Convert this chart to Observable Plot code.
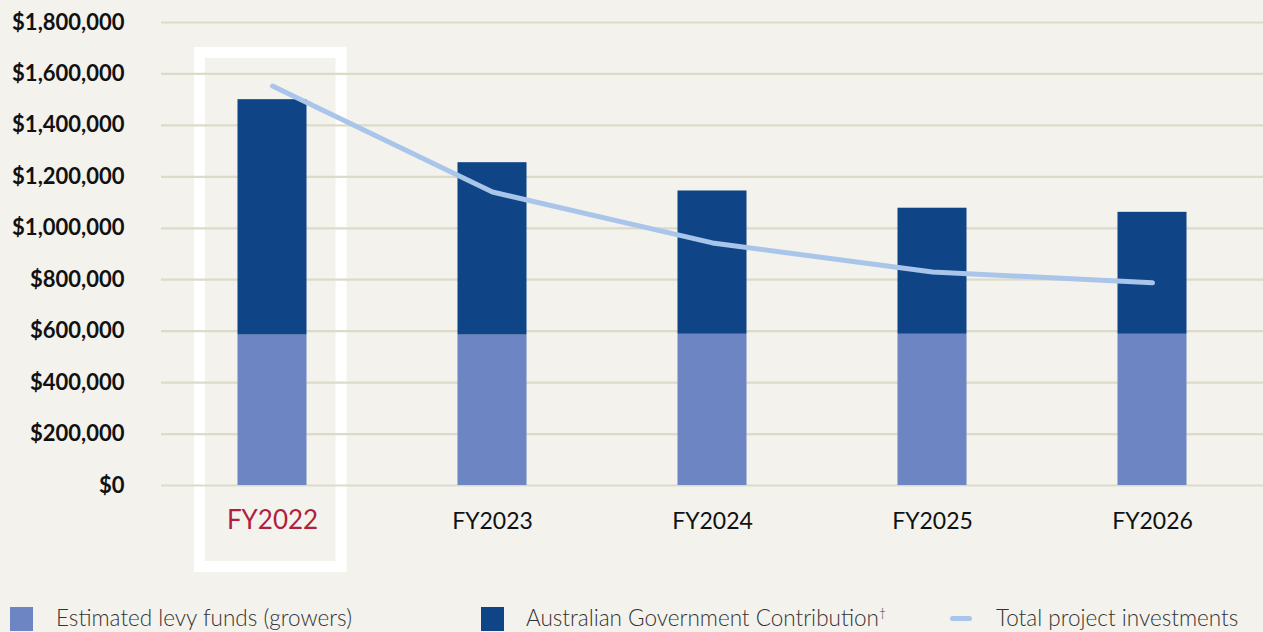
<!DOCTYPE html>
<html>
<head>
<meta charset="utf-8">
<script src="https://cdn.jsdelivr.net/npm/d3@7"></script>
<script src="https://cdn.jsdelivr.net/npm/@observablehq/plot@0.6"></script>
<style>
  html, body { margin: 0; padding: 0; background: #f3f2ed; }
  body { width: 1263px; height: 632px; overflow: hidden; position: relative; font-family: Lato, "Open Sans", sans-serif; }
  #legend { position: absolute; left: 0; top: 595px; width: 1263px; height: 37px; }
  .item { position: absolute; top: 0; height: 37px; font-size: 22.5px; font-weight: 300; color: #333; white-space: nowrap; }
  .sw { position: absolute; top: 12px; width: 23px; height: 24px; }
  .ln { position: absolute; top: 21px; width: 22px; height: 5px; border-radius: 3px; }
  .lt { position: absolute; top: 11px; line-height: 24px; }
  .lt sup { font-size: 12px; vertical-align: 9px; line-height: 0; }
</style>
</head>
<body>
<div id="chart"></div>
<div id="legend"></div>
<script>
const categories = ["FY2022", "FY2023", "FY2024", "FY2025", "FY2026"];
const levyFunds = [585000, 585000, 588000, 588000, 588000];
const governmentContribution = [915000, 670000, 557000, 490000, 474000];
const totalProjectInvestments = [1553000, 1141000, 943000, 830000, 788000];
const yTicks = [0, 200000, 400000, 600000, 800000, 1000000, 1200000, 1400000, 1600000, 1800000];
const seriesNames = ["Estimated levy funds (growers)", "Australian Government Contribution\u2020"];
const seriesColors = ["#6d86c3", "#0f4587"];
const lineName = "Total project investments";
const lineColor = "#a9c5ea";
const highlighted = ["FY2022"];

const rows = [];
categories.forEach((c, i) => {
  rows.push({year: c, series: seriesNames[0], value: levyFunds[i]});
  rows.push({year: c, series: seriesNames[1], value: governmentContribution[i]});
});
const lineRows = categories.map((c, i) => ({year: c, value: totalProjectInvestments[i]}));

const fmt = d => "$" + d3.format(",")(d);

const chart = Plot.plot({
  width: 1263,
  height: 595,
  marginLeft: 161,
  marginRight: 0,
  marginTop: 22,
  marginBottom: 110,
  style: {background: "transparent", fontFamily: "Lato, 'Open Sans', sans-serif"},
  x: {domain: categories, padding: 0, axis: null},
  y: {domain: [0, 1800000], ticks: yTicks, axis: null},
  color: {domain: seriesNames, range: seriesColors},
  marks: [
    Plot.barY(highlighted, {
      x: d => d, y1: 0, y2: 1800000,
      insetLeft: 37.5, insetRight: 41, insetTop: 30.5, insetBottom: -81.5,
      fill: "none", stroke: "white", strokeWidth: 11
    }),
    Plot.ruleY(yTicks, {stroke: "#dcdbca", strokeWidth: 2.2}),
    Plot.axisY({
      ticks: yTicks, tickFormat: fmt, tickSize: 0, tickPadding: 37,
      fontSize: 22, fontWeight: 700, fill: "#111", label: null
    }),
    Plot.barY(rows, {
      x: "year", y: "value", fill: "series", order: seriesNames,
      insetLeft: 75.5, insetRight: 75.5
    }),
    Plot.lineY(lineRows, {
      x: "year", y: "value", stroke: lineColor, strokeWidth: 5,
      strokeLinecap: "round", strokeLinejoin: "round"
    }),
    Plot.text(categories, {
      x: d => d, frameAnchor: "bottom", dy: 43,
      text: d => d,
      fill: d => highlighted.includes(d) ? "#b01f3c" : "#111",
      fontSize: d => highlighted.includes(d) ? 26 : 23,
      fontWeight: d => highlighted.includes(d) ? 600 : 700
    })
  ]
});
document.getElementById("chart").appendChild(chart);

const legend = document.getElementById("legend");
const items = [
  {label: seriesNames[0], color: seriesColors[0], kind: "sw", left: 10, text: 56},
  {label: seriesNames[1], color: seriesColors[1], kind: "sw", left: 481, text: 526},
  {label: lineName, color: lineColor, kind: "ln", left: 950, text: 996}
];
items.forEach(it => {
  const el = document.createElement("div");
  el.className = "item";
  el.style.left = it.left + "px";
  const sw = document.createElement("span");
  sw.className = it.kind;
  sw.style.left = "0px";
  sw.style.background = it.color;
  el.appendChild(sw);
  const t = document.createElement("span");
  t.className = "lt";
  t.style.left = (it.text - it.left) + "px";
  if (it.label.endsWith("\u2020")) {
    t.textContent = it.label.slice(0, -1);
    const s = document.createElement("sup");
    s.textContent = "\u2020";
    t.appendChild(s);
  } else {
    t.textContent = it.label;
  }
  el.appendChild(t);
  legend.appendChild(el);
});
</script>
</body>
</html>
